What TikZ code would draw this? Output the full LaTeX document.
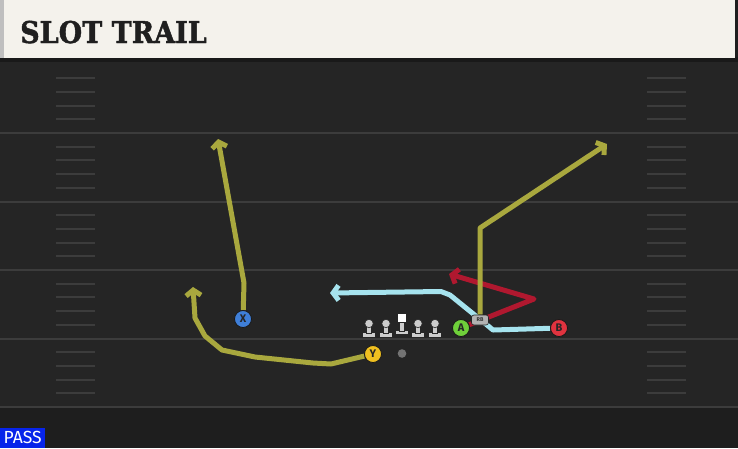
\documentclass[tikz,border=0pt]{standalone}
\usepackage{fontspec}
\setsansfont{Fira Sans}
\newfontfamily\slabfont{DejaVu Serif}[BoldFeatures={FakeBold=1.6}]
\usetikzlibrary{arrows.meta}

\definecolor{fieldgray}{HTML}{252525}
\definecolor{fielddark}{HTML}{1E1E1E}
\definecolor{yardgray}{HTML}{3C3C3C}
\definecolor{headercream}{HTML}{F4F2EC}
\definecolor{routeolive}{HTML}{A9A83E}
\definecolor{routeblue}{HTML}{A6E3EE}
\definecolor{routered}{HTML}{B0182F}
\definecolor{xblue}{HTML}{3F7FD8}
\definecolor{yyellow}{HTML}{F0C020}
\definecolor{agreen}{HTML}{6FD03A}
\definecolor{bred}{HTML}{E0333F}
\definecolor{passblue}{HTML}{0724EA}

\pgfdeclarelayer{background}
\pgfdeclarelayer{routes}
\pgfsetlayers{background,routes,main}

\begin{document}
\begin{tikzpicture}[x=1pt,y=-1pt,
player/.style={draw=black!90,circle,line width=0.8pt,minimum size=17pt,inner sep=0pt,
  font=\sffamily\bfseries\fontsize{11}{11}\selectfont,text=black!85},
route/.style={line width=5pt,line join=round,-{Straight Barb[length=5.5pt,width=15pt]}},
yardline/.style={draw=yardgray,line width=2pt},
hashmark/.style={draw=yardgray,line width=2pt},
lineman/.style={fill=black!20,draw=black!85,line width=0.6pt}]
\useasboundingbox (0,0) rectangle (738,448);

\begin{pgfonlayer}{background}
% field and header
\fill[fielddark] (0,0) rectangle (738,448);
\fill[fieldgray] (0,62) rectangle (738,408);
\fill[black!90] (0,57) rectangle (738,62);
\fill[headercream] (0,0) rectangle (735,58);
\fill[black!25] (0,0) rectangle (4,58);
\foreach \y in {133,201.5,270,338.5,407}
  \draw[yardline] (0,\y) -- (738,\y);
\foreach \l in {64.5,133,201.5,270,338.5}
  \foreach \k in {1,...,4} {
    \draw[hashmark] (56,\l+13.7*\k) -- (95,\l+13.7*\k);
    \draw[hashmark] (647,\l+13.7*\k) -- (686,\l+13.7*\k);
  }
\end{pgfonlayer}

\node[anchor=base west,inner sep=0pt,font=\slabfont\bfseries\fontsize{30}{30}\selectfont,text=black!88] (title)
  at (20,43) {\scalebox{0.9}[1]{SLOT TRAIL}};

% line
\foreach \x in {369,386,418,435} {
  \fill[lineman] (\x-6.5,332.5) rectangle (\x+6.5,337.5);
  \fill[lineman] (\x-2.5,326) rectangle (\x+2.5,333);
  \fill[lineman] (\x,323.5) circle (4.2);
}
\fill[lineman] (395,330) rectangle (408,334.5);
\fill[lineman] (399,322) rectangle (404,331);
\filldraw[fill=white,draw=black!85,line width=0.6pt] (397,313.5) rectangle (406,322);
\fill[black!55] (402,353.5) circle (4.3);

% players
\node[player,fill=xblue] (X) at (243,319) {X};
\node[player,fill=yyellow] (Y) at (373,354) {Y};
\node[player,fill=agreen] (A) at (461,328) {A};
\node[player,fill=bred] (B) at (559,328) {B};
\node[draw=black!85,fill=black!30,rounded corners=2.5pt,line width=0.6pt,minimum width=17pt,minimum height=10pt,
  inner sep=0pt,font=\sffamily\bfseries\fontsize{5.5}{5.5}\selectfont,text=black!80] (RB) at (480,320) {RB};

\node[anchor=south west,fill=passblue,text=white,minimum width=45pt,minimum height=20pt,inner sep=0pt,
  font=\sffamily\fontsize{17.5}{17.5}\selectfont] (pass) at (0,448) {PASS};

\coordinate (Xend) at (218,139);
\coordinate (Yend) at (193,287);
\coordinate (Aend) at (449,274);
\coordinate (Bend) at (330,293);
\coordinate (RBend) at (607,144);

% routes
\begin{pgfonlayer}{routes}
\draw[route,routeolive] (X) -- (244,283) -- (Xend);
\draw[route,routeolive] (Y) -- (331,364) -- (313,363) -- (255,357) -- (222,350) -- (205,336) -- (195,318) -- (Yend);
\draw[route,routered] (A) -- (534,299) -- (Aend);
\draw[route,routeblue] (B) -- (493,330) -- (487,325) -- (450,295) -- (441,291.5) -- (Bend);
\draw[route,routeolive] (RB) -- (480,228) -- (RBend);
\end{pgfonlayer}

\end{tikzpicture}
\end{document}
